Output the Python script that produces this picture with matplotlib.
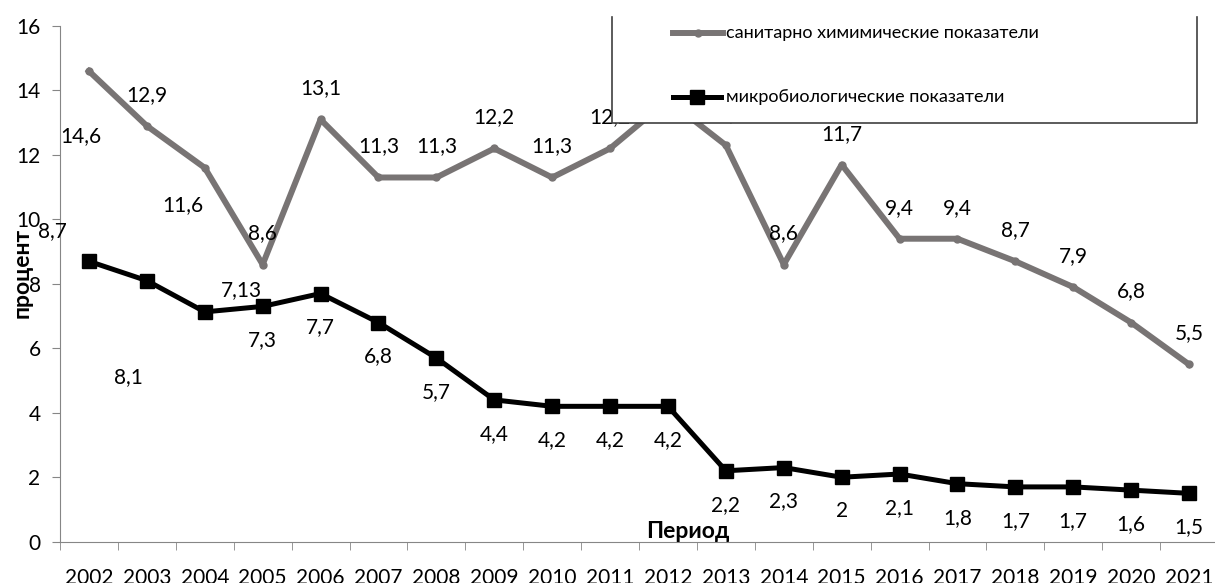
import numpy as np
import matplotlib
matplotlib.use('Agg')
import matplotlib.pyplot as plt
from matplotlib.lines import Line2D
from matplotlib.patches import Rectangle

plt.rcParams['font.family'] = ['Lato', 'DejaVu Sans']

# ── Данные ─────────────────────────────────────────────
years = [str(y) for y in range(2002, 2022)]
chem = [14.6, 12.9, 11.6, 8.6, 13.1, 11.3, 11.3, 12.2, 11.3, 12.2,
        13.7, 12.3, 8.6, 11.7, 9.4, 9.4, 8.7, 7.9, 6.8, 5.5]
micro = [8.7, 8.1, 7.13, 7.3, 7.7, 6.8, 5.7, 4.4, 4.2, 4.2,
         4.2, 2.2, 2.3, 2.0, 2.1, 1.8, 1.7, 1.7, 1.6, 1.5]
chem_name = 'санитарно химимические показатели'
micro_name = 'микробиологические показатели'

# смещения подписей (пиксели, вниз +)
chem_off = {0: (-8, 65), 2: (-22, 37)}
micro_off = {0: (-37, -30), 1: (-18, 96), 2: (37, -22)}

GRAY = '#787474'
W, H = 1215, 583

fig = plt.figure(figsize=(W / 100, H / 100), dpi=100)
ax = fig.add_axes([60 / W, 1 - 541.7 / H, 1158 / W, 515.7 / H])
x = np.arange(len(years))

ax.plot(x, chem, color=GRAY, lw=4.3, marker='o', ms=5, zorder=3)
ax.plot(x, micro, color='black', lw=3.6, marker='s', ms=10, zorder=4)


def fmt(v):
    return f'{v:g}'.replace('.', ',')


for i, v in enumerate(chem):
    dx, dy = chem_off.get(i, (0, -31))
    ax.annotate(fmt(v), (i, v), xytext=(dx, -dy), textcoords='offset pixels',
                ha='center', va='center', fontsize=15, zorder=5)
for i, v in enumerate(micro):
    dx, dy = micro_off.get(i, (0, 34))
    ax.annotate(fmt(v), (i, v), xytext=(dx, -dy), textcoords='offset pixels',
                ha='center', va='center', fontsize=15, zorder=5)

ax.set_xlim(-0.5, len(years) - 0.5)
ax.set_ylim(0, 16)
ax.set_yticks(range(0, 17, 2))
ax.set_xticks(x)
ax.set_xticklabels(years)
ax.set_xticks(np.arange(-0.5, len(years)), minor=True)
ax.tick_params(axis='x', which='major', length=0, pad=19, labelsize=15)
ax.tick_params(axis='x', which='minor', length=6, color='#868686', direction='out')
ax.tick_params(axis='y', length=6, color='#868686', pad=8, labelsize=15)
for s in ['top', 'right']:
    ax.spines[s].set_visible(False)
for s in ['left', 'bottom']:
    ax.spines[s].set_color('#868686')

ax.text(688, H - 531, 'Период', transform=None, fontsize=16.5,
        fontweight='bold', ha='center', va='center')
fig.text(22 / W, 1 - 273 / H, 'процент', rotation=90, fontsize=16.5,
         fontweight='bold', ha='center', va='center')

# ── Легенда ────────────────────────────────────────────
L, R, B, T = 612, 1197, 123, 17
fig.patches.append(Rectangle((L / W, 1 - B / H), (R - L) / W, (B - T) / H,
                             transform=fig.transFigure, facecolor='white',
                             edgecolor='none', zorder=10))
fig.lines.append(Line2D([L / W, L / W, R / W, R / W],
                        [1 - T / H, 1 - B / H, 1 - B / H, 1 - T / H],
                        color='#404040', lw=1.2, transform=fig.transFigure, zorder=11))
fig.lines.append(Line2D([673 / W, 723 / W], [1 - 33 / H] * 2, color=GRAY, lw=4.3,
                        transform=fig.transFigure, zorder=11))
fig.lines.append(Line2D([698 / W], [1 - 33 / H], color=GRAY, marker='o', ms=5,
                        transform=fig.transFigure, zorder=11))
fig.lines.append(Line2D([673 / W, 721 / W], [1 - 97 / H] * 2, color='black', lw=3.6,
                        transform=fig.transFigure, zorder=11))
fig.lines.append(Line2D([697 / W], [1 - 97 / H], color='black', marker='s', ms=10,
                        transform=fig.transFigure, zorder=11))
fig.text(726 / W, 1 - 33 / H, chem_name, fontsize=13, va='center', zorder=12)
fig.text(726 / W, 1 - 97 / H, micro_name, fontsize=13, va='center', zorder=12)

plt.savefig('out.png', dpi=100)
